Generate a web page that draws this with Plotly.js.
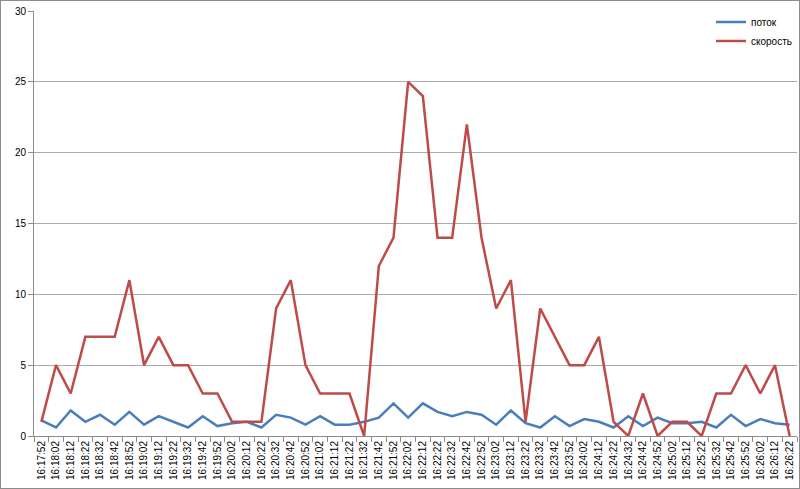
<!DOCTYPE html>
<html>
<head>
<meta charset="utf-8">
<script src="https://cdn.plot.ly/plotly-3.0.1.min.js"></script>
<style>
html,body{margin:0;padding:0;background:#fff;}
#chart{width:798px;height:487px;border:1px solid #8c8c8c;}
</style>
</head>
<body>
<div id="chart"></div>
<script>
var times = ["16:17:52","16:18:02","16:18:12","16:18:22","16:18:32","16:18:42","16:18:52","16:19:02","16:19:12","16:19:22","16:19:32","16:19:42","16:19:52","16:20:02","16:20:12","16:20:22","16:20:32","16:20:42","16:20:52","16:21:02","16:21:12","16:21:22","16:21:32","16:21:42","16:21:52","16:22:02","16:22:12","16:22:22","16:22:32","16:22:42","16:22:52","16:23:02","16:23:12","16:23:22","16:23:32","16:23:42","16:23:52","16:24:02","16:24:12","16:24:22","16:24:32","16:24:42","16:24:52","16:25:02","16:25:12","16:25:22","16:25:32","16:25:42","16:25:52","16:26:02","16:26:12","16:26:22"];
var potok = [1.1,0.6,1.8,1.0,1.5,0.8,1.7,0.8,1.4,1.0,0.6,1.4,0.7,0.9,1.0,0.6,1.5,1.3,0.8,1.4,0.8,0.8,1.0,1.3,2.3,1.3,2.3,1.7,1.4,1.7,1.5,0.8,1.8,0.9,0.6,1.4,0.7,1.2,1.0,0.6,1.4,0.7,1.3,0.9,0.9,1.0,0.6,1.5,0.7,1.2,0.9,0.8];
var skorost = [1,5,3,7,7,7,11,5,7,5,5,3,3,1,1,1,9,11,5,3,3,3,0,12,14,25,24,14,14,22,14,9,11,1,9,7,5,5,7,1,0,3,0,1,1,0,3,3,5,3,5,0];
var seriesNames = ["поток","скорость"];

var traces = [
  {x: times, y: potok, type: "scatter", mode: "lines", name: seriesNames[0],
   line: {color: "#4A7EBB", width: 2.5}},
  {x: times, y: skorost, type: "scatter", mode: "lines", name: seriesNames[1],
   line: {color: "#BE4B48", width: 2.5}}
];

var layout = {
  width: 798, height: 487,
  margin: {l: 33, r: 2, t: 10, b: 52, pad: 0},
  paper_bgcolor: "#fff", plot_bgcolor: "#fff",
  font: {family: "Liberation Sans, Arial, sans-serif", size: 10, color: "#000"},
  showlegend: true,
  legend: {x: 1.0, y: 1.008, xanchor: "right", yanchor: "top",
           bgcolor: "rgba(0,0,0,0)", font: {size: 10}},
  xaxis: {
    type: "category", range: [-0.5, times.length - 0.5],
    tickangle: -90, tickson: "boundaries", ticks: "outside", ticklen: 5,
    tickcolor: "#8c8c8c", showline: true, linecolor: "#8c8c8c", linewidth: 1,
    showgrid: false, tickfont: {size: 10}, automargin: false, fixedrange: true
  },
  yaxis: {
    range: [0, 30], dtick: 5, tick0: 0, ticks: "outside", ticklen: 5,
    tickcolor: "#8c8c8c", showline: true, linecolor: "#8c8c8c", linewidth: 1,
    showgrid: true, gridcolor: "#ababab", gridwidth: 1, zeroline: false,
    tickfont: {size: 10}, automargin: false, fixedrange: true
  }
};

Plotly.newPlot("chart", traces, layout, {displayModeBar: false, staticPlot: true});
</script>
</body>
</html>
